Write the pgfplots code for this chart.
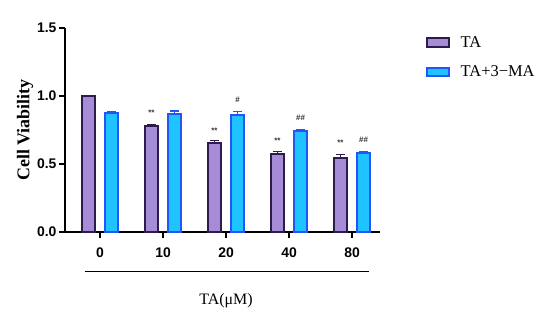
\documentclass[border=0pt]{standalone}
\usepackage{fontspec}
\setmainfont{Liberation Serif}
\setsansfont{Liberation Sans}
\usepackage{pgfplots}
\pgfplotsset{compat=1.18}
\definecolor{tafill}{HTML}{A68BD6}
\definecolor{taedge}{HTML}{2D1B4E}
\definecolor{mafill}{HTML}{1FC3FF}
\definecolor{maedge}{HTML}{2456F5}
\pgfplotsset{
  boxleg/.style={legend image code/.code={\draw[##1,line width=1.8bp] (0bp,-4.2bp) rectangle (22bp,4.2bp);}}
}
\begin{document}
\begin{tikzpicture}
\useasboundingbox (0,0) rectangle (550bp,323bp);
\begin{axis}[
  at={(65bp,91bp)}, anchor=south west,
  scale only axis, width=315bp, height=204bp,
  xmin=-0.556, xmax=4.444, ymin=0, ymax=1.5,
  ybar=10bp, bar width=13bp,
  axis x line*=bottom, axis y line*=left,
  axis line style={line width=1.6bp, black},
  tick align=outside,
  major tick length=6bp,
  tick style={line width=1.4bp, black},
  xtick={0,1,2,3,4}, xticklabels={0,10,20,40,80},
  ytick={0,0.5,1,1.5}, yticklabels={0.0,0.5,1.0,1.5},
  /pgf/number format/assume math mode=true,
  ticklabel style={font=\fontsize{14}{16}\selectfont\sffamily\bfseries},
  xticklabel style={yshift=-6bp},
  yticklabel style={xshift=1bp},
  ylabel={Cell Viability},
  ylabel style={at={(axis description cs:-0.127,0.5)}, anchor=center, font=\fontsize{18}{20}\selectfont\bfseries},
  legend style={draw=none, fill=none, at={(1.145,0.965)}, anchor=north west, inner sep=0pt,
    font=\fontsize{16.5}{18}\selectfont, row sep=15bp, column sep=10bp, nodes={inner sep=1pt}},
  legend cell align=left,
  clip=false,
]
\addplot[ybar, fill=tafill, draw=taedge, line width=2.2bp,
  error bars/.cd, y dir=plus, y explicit,
  error bar style={line width=1.4bp, draw=taedge},
  error mark options={rotate=90, line width=1.4bp, mark size=4.5bp, draw=taedge},
  /pgfplots/.cd, boxleg]
  coordinates {(0,1.000) +- (0,0.003) (1,0.780) +- (0,0.012) (2,0.652) +- (0,0.022) (3,0.576) +- (0,0.017) (4,0.546) +- (0,0.022)};
\addplot[ybar, fill=mafill, draw=maedge, line width=2.2bp,
  error bars/.cd, y dir=plus, y explicit,
  error bar style={line width=1.4bp, draw=maedge},
  error mark options={rotate=90, line width=1.4bp, mark size=4.5bp, draw=maedge},
  /pgfplots/.cd, boxleg]
  coordinates {(0,0.877) +- (0,0.008) (1,0.870) +- (0,0.020) (2,0.858) +- (0,0.027) (3,0.740) +- (0,0.012) (4,0.579) +- (0,0.009)};
\legend{TA, TA+3−MA}
\begin{scope}[every node/.style={font=\fontsize{8}{9}\selectfont\sffamily\bfseries, text=black!80}]
\node at (axis cs:0.817,0.875) {**};
\node at (axis cs:1.817,0.745) {**};
\node at (axis cs:2.817,0.670) {**};
\node at (axis cs:3.817,0.655) {**};
\node at (axis cs:2.183,0.970) {\#};
\node at (axis cs:3.183,0.838) {\#\#};
\node at (axis cs:4.183,0.676) {\#\#};
\end{scope}
\end{axis}
\draw[line width=1bp] (85bp,51.3bp) -- (369bp,51.3bp);
\node[font=\fontsize{16}{18}\selectfont] at (226bp,22bp) {TA(μM)};
\end{tikzpicture}
\end{document}
